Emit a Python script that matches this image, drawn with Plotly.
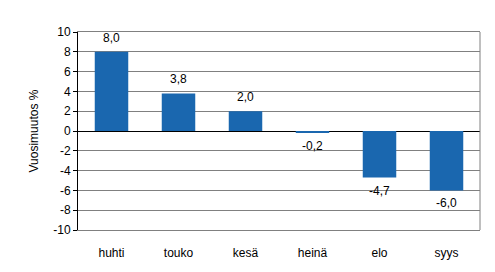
import plotly.graph_objects as go

months = ["huhti", "touko", "kesä", "heinä", "elo", "syys"]
values = [8.0, 3.8, 2.0, -0.2, -4.7, -6.0]
y_ticks = list(range(-10, 11, 2))

def fi(v, d=1):
    return f"{v:.{d}f}".replace(".", ",")

fig = go.Figure()
fig.add_trace(go.Bar(
    x=months, y=values,
    marker=dict(color="#1A67AF", line=dict(width=0)),
    width=0.5,
    hoverinfo="x+y",
))

annotations = [
    dict(x=m, y=v, xref="x", yref="y", text=fi(v), showarrow=False,
         yanchor="middle", yshift=14 if v >= 0 else -13,
         font=dict(family="Liberation Sans, Arial", size=12, color="black"))
    for m, v in zip(months, values)
]

fig.update_layout(
    width=495, height=272,
    margin=dict(l=78, r=15, t=32, b=42),
    paper_bgcolor="white", plot_bgcolor="white",
    showlegend=False,
    font=dict(family="Liberation Sans, Arial", size=12, color="black"),
    xaxis=dict(
        showline=True, linecolor="#808080", linewidth=1, mirror=True,
        showgrid=False, ticks="outside", ticklen=12, tickcolor="rgba(0,0,0,0)",
        tickfont=dict(size=12),
    ),
    yaxis=dict(
        range=[-10, 10], tickvals=y_ticks, ticktext=[str(t) for t in y_ticks],
        showline=True, linecolor="black", linewidth=1,
        ticks="outside", ticklen=4, tickcolor="black",
        showgrid=True, gridcolor="#808080", gridwidth=1,
        zeroline=True, zerolinecolor="black", zerolinewidth=1,
        title=dict(text="Vuosimuutos %", font=dict(size=12), standoff=12),
        tickfont=dict(size=12),
    ),
    annotations=annotations,
    shapes=[dict(type="line", xref="paper", yref="paper", x0=1, x1=1, y0=0, y1=1,
                 line=dict(color="#808080", width=1))],
)

fig.write_html("out.html")
